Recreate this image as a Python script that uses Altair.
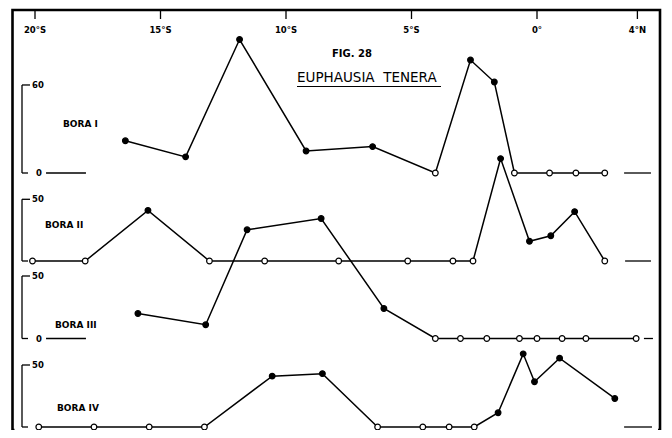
import altair as alt
import pandas as pd

# ---------------- data ----------------
tick_lat = [-20, -15, -10, -5, 0, 4]
tick_text = ["20°S", "15°S", "10°S", "5°S", "0°", "4°N"]

cruise_names = ["BORA I", "BORA II", "BORA III", "BORA IV"]

bora1_lat = [-16.4, -14.0, -11.85, -9.2, -6.55, -4.05, -2.65, -1.7, -0.9, 0.5, 1.55, 2.7]
bora1_val = [22, 11, 91, 15, 18, 0, 77, 62, 0, 0, 0, 0]

bora2_lat = [-20.1, -18.0, -15.5, -13.05, -10.85, -7.9, -5.15, -3.35, -2.55, -1.45, -0.3, 0.55, 1.5, 2.7]
bora2_val = [0, 0, 41, 0, 0, 0, 0, 0, 0, 83, 16, 20.5, 40, 0]

bora3_lat = [-15.9, -13.2, -11.55, -8.6, -6.1, -4.05, -3.05, -2.0, -0.7, 0.0, 1.0, 1.95, 3.95]
bora3_val = [20, 11, 87, 96, 24, 0, 0, 0, 0, 0, 0, 0, 0]

bora4_lat = [-19.85, -17.65, -15.45, -13.25, -10.55, -8.55, -6.35, -4.55, -3.5, -2.5, -1.55, -0.55, -0.1, 0.9, 3.1]
bora4_val = [0, 0, 0, 0, 41, 43, 0, 0, 0, 0, 11.5, 59, 36.5, 55.5, 23]

scale_top = [60, 50, 50, 50]          # top of each little vertical scale
zero_label = [True, False, True, False]
stub_left = [(-19.56, -17.97), None, (-19.56, -17.97), None]
stub_right = [(3.47, 4.54), (3.51, 4.54), (4.26, 4.62), (3.47, 4.58)]

title_fig = "FIG. 28"
title_species = "EUPHAUSIA\u00a0\u00a0TENERA"

# ---------------- layout ----------------
PL, PT = 4.5, 2
W, H = 647.5, 420
X0_PX, DEG_PX = 22.5, 25.1
baseline_px = [163, 251, 328.5, 417]
unit_px = [1.467, 1.234, 1.25, 1.24]
label_pos = [(50.5, 114), (32.5, 215), (42.5, 315), (44.5, 398)]
FONT = "DejaVu Sans"

xscale = alt.Scale(domain=[-20 - X0_PX / DEG_PX, -20 + (W - X0_PX) / DEG_PX], nice=False, zero=False)

series = [(bora1_lat, bora1_val), (bora2_lat, bora2_val), (bora3_lat, bora3_val), (bora4_lat, bora4_val)]

layers = []

# mask the bottom edge of the view frame (the original page is cut there)
layers.append(alt.Chart(pd.DataFrame({"d": [0]})).mark_rule(color="white", strokeWidth=4).encode(
    x=alt.value(2), x2=alt.value(W - 2), y=alt.value(H)))
# title underline
layers.append(alt.Chart(pd.DataFrame({"d": [0]})).mark_rule(color="black", strokeWidth=1.2).encode(
    x=alt.value(284.5), x2=alt.value(428.5), y=alt.value(76.5)))

ticks = pd.DataFrame({"lat": tick_lat, "t": tick_text})
layers.append(alt.Chart(ticks).mark_rule(color="black", strokeWidth=1.3).encode(
    x=alt.X("lat:Q", scale=xscale, axis=None), y=alt.value(1), y2=alt.value(9)))
layers.append(alt.Chart(ticks).mark_text(font=FONT, fontSize=8.5, fontWeight="bold", baseline="middle").encode(
    x=alt.X("lat:Q", scale=xscale, axis=None), y=alt.value(20), text="t:N"))

titles = pd.DataFrame({"t": [title_fig, title_species], "x": [319.5, 284.5], "y": [44, 68],
                       "s": [10, 13.5], "wt": ["bold", "normal"]})
layers.append(alt.Chart(titles).transform_filter("datum.wt == 'bold'").mark_text(
    font=FONT, align="left", baseline="middle", color="black", fontWeight="bold").encode(
    x=alt.X("x:Q", scale=None), y=alt.Y("y:Q", scale=None), text="t:N",
    size=alt.Size("s:Q", scale=None, legend=None)))
layers.append(alt.Chart(titles).transform_filter("datum.wt == 'normal'").mark_text(
    font=FONT, align="left", baseline="middle", color="black").encode(
    x=alt.X("x:Q", scale=None), y=alt.Y("y:Q", scale=None), text="t:N",
    size=alt.Size("s:Q", scale=None, legend=None)))

for i, (lats, vals) in enumerate(series):
    pyb, k = baseline_px[i], unit_px[i]
    ys = alt.Scale(domain=[-(H - pyb) / k, pyb / k], nice=False, zero=False)
    df = pd.DataFrame({"lat": lats, "val": vals, "idx": range(len(lats))})
    layers.append(alt.Chart(df).mark_line(color="black", strokeWidth=1.5).encode(
        x=alt.X("lat:Q", scale=xscale, axis=None),
        y=alt.Y("val:Q", scale=ys, axis=None), order="idx:Q"))
    layers.append(alt.Chart(df).mark_point(shape="circle", filled=True, stroke="black",
                                          strokeWidth=1.2, size=32, opacity=1).encode(
        x=alt.X("lat:Q", scale=xscale, axis=None),
        y=alt.Y("val:Q", scale=ys, axis=None),
        fill=alt.condition("datum.val > 0", alt.value("black"), alt.value("white"))))
    # baseline stubs
    stubs = [s for s in (stub_left[i], stub_right[i]) if s is not None]
    sdf = pd.DataFrame({"a": [s[0] for s in stubs], "b": [s[1] for s in stubs], "z": [0] * len(stubs)})
    layers.append(alt.Chart(sdf).mark_rule(color="black", strokeWidth=1.3).encode(
        x=alt.X("a:Q", scale=xscale, axis=None), x2="b:Q",
        y=alt.Y("z:Q", scale=ys, axis=None)))
    # small vertical scale bracket
    bdf = pd.DataFrame({"lo": [0], "hi": [scale_top[i]]})
    layers.append(alt.Chart(bdf).mark_rule(color="black", strokeWidth=1.3).encode(
        x=alt.value(9.5), y=alt.Y("lo:Q", scale=ys, axis=None), y2="hi:Q"))
    hdf = pd.DataFrame({"v": [0, scale_top[i]], "x1": [9.5, 9.5], "x2": [15.5, 17.5]})
    layers.append(alt.Chart(hdf).mark_rule(color="black", strokeWidth=1.3).encode(
        x=alt.X("x1:Q", scale=None), x2="x2:Q",
        y=alt.Y("v:Q", scale=ys, axis=None)))
    tdf = pd.DataFrame({"v": [scale_top[i]] + ([0] if zero_label[i] else []),
                        "t": [str(scale_top[i])] + (["0"] if zero_label[i] else []),
                        "xx": [19.5] + ([23.5] if zero_label[i] else [])})
    layers.append(alt.Chart(tdf).mark_text(font=FONT, fontSize=8.5, fontWeight="bold",
                                          align="left", baseline="middle").encode(
        x=alt.X("xx:Q", scale=None), y=alt.Y("v:Q", scale=ys, axis=None), text="t:N"))
    ldf = pd.DataFrame({"t": [cruise_names[i]], "x": [label_pos[i][0]], "y": [label_pos[i][1]]})
    layers.append(alt.Chart(ldf).mark_text(font=FONT, fontSize=9, fontWeight="bold",
                                          align="left", baseline="middle").encode(
        x=alt.X("x:Q", scale=None), y=alt.Y("y:Q", scale=None), text="t:N"))

chart = alt.layer(*layers).resolve_scale(y="independent").properties(
    width=W, height=H, padding={"left": PL, "top": PT, "right": 4, "bottom": 0},
    autosize="none", background="white"
).configure_view(stroke="black", strokeWidth=2.6)

chart.save("out.html", embed_options={"renderer": "svg", "actions": False})
